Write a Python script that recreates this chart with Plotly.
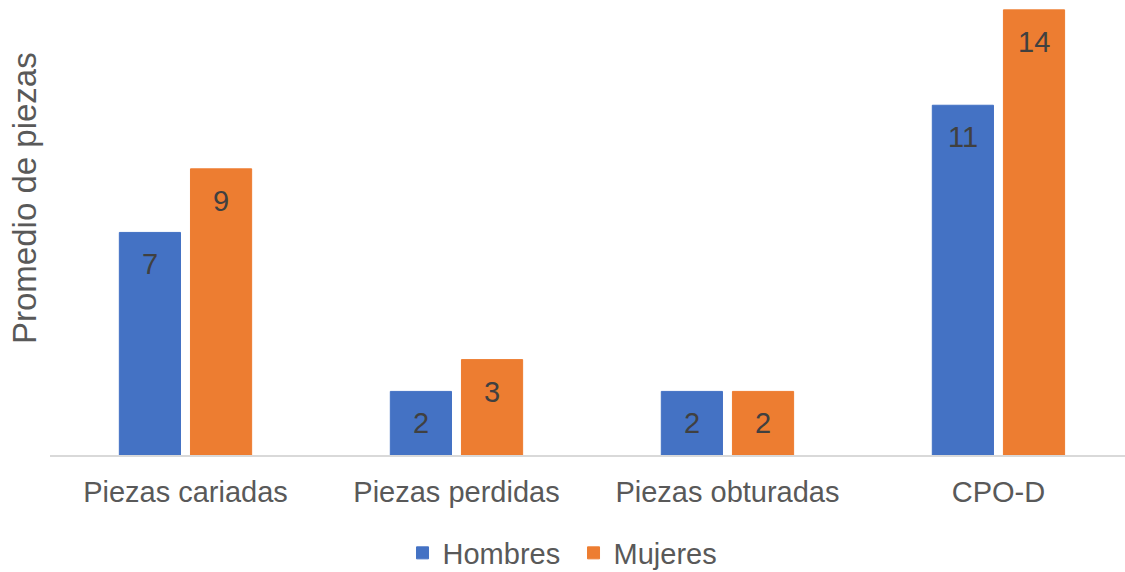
import plotly.graph_objects as go

categorias = ["Piezas cariadas", "Piezas perdidas", "Piezas obturadas", "CPO-D"]
hombres = [7, 2, 2, 11]
mujeres = [9, 3, 2, 14]

AZUL = "#4472C4"
NARANJA = "#ED7D31"
FUENTE = "Liberation Sans, Arial, sans-serif"

fig = go.Figure()
fig.add_trace(go.Bar(name="Hombres", x=categorias, y=hombres, marker_color=AZUL,
                     marker_line=dict(color=AZUL, width=1)))
fig.add_trace(go.Bar(name="Mujeres", x=categorias, y=mujeres, marker_color=NARANJA,
                     marker_line=dict(color=NARANJA, width=1)))

# value labels just inside the top of each bar
for serie, desplaz in ((hombres, -35.5), (mujeres, 35.5)):
    for cat, val in zip(categorias, serie):
        fig.add_annotation(
            x=cat, y=val, xref="x", yref="y", text=str(val), showarrow=False,
            xshift=desplaz, yshift=-32, yanchor="middle",
            font=dict(family=FUENTE, size=29, color="#404040"),
        )

# vertical axis title, placed in paper fractions of the plotting area
fig.add_annotation(
    x=(24 - 50) / 1075, y=(455 - 198) / 455, xref="paper", yref="paper",
    text="Promedio de piezas", showarrow=False, textangle=-90,
    xanchor="center", yanchor="middle",
    font=dict(family=FUENTE, size=33, color="#595959"),
)

fig.update_layout(
    width=1125, height=572,
    margin=dict(l=50, r=0, t=0, b=117, autoexpand=False),
    paper_bgcolor="white", plot_bgcolor="white",
    barmode="group", bargap=0.475, bargroupgap=0.14,
    font=dict(family=FUENTE, color="#595959"),
    legend=dict(
        orientation="h", x=0.487, xanchor="center",
        yref="container", y=19 / 572, yanchor="middle",
        font=dict(family=FUENTE, size=29, color="#595959"),
        itemwidth=30, entrywidth=126, entrywidthmode="pixels",
    ),
    xaxis=dict(
        range=[-0.5, 3.467], showline=True, linecolor="#d9d9d9", linewidth=2,
        showgrid=False, ticks="", ticklabelstandoff=10,
        tickfont=dict(family=FUENTE, size=29, color="#595959"),
    ),
    yaxis=dict(
        range=[0, 14.31], showgrid=False, zeroline=False, showticklabels=False,
        showline=False,
    ),
)

fig.write_html("out.html")
